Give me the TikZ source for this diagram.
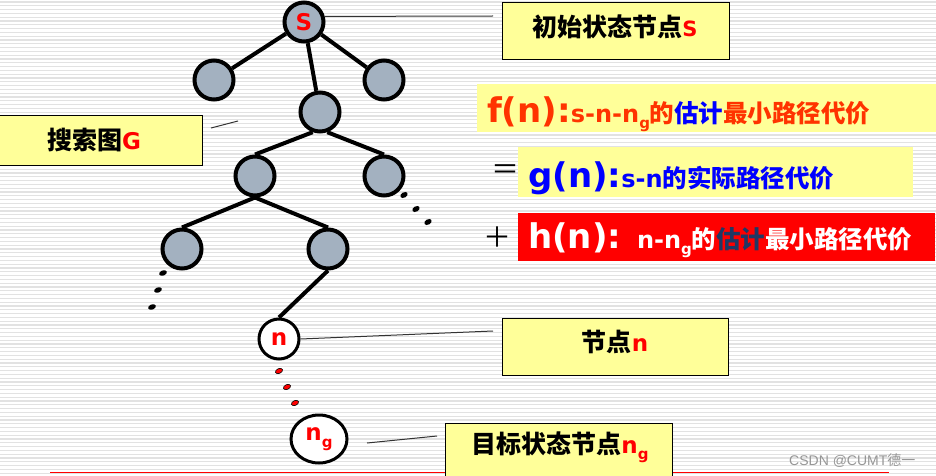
\documentclass[tikz,border=0pt]{standalone}
\usepackage{fontspec}
\setmainfont{DejaVu Sans}
\newfontfamily\cjk{Noto Sans CJK SC}
\newfontfamily\arialf{Liberation Sans}
\usetikzlibrary{shapes.geometric}
\definecolor{fcol}{RGB}{255,51,0}
\definecolor{gblue}{RGB}{0,0,255}
\definecolor{hnavy}{RGB}{31,56,100}
\definecolor{ybox}{RGB}{255,255,153}
\definecolor{rbox}{RGB}{255,0,0}
\definecolor{nfill}{RGB}{163,177,192}
\definecolor{stripe}{RGB}{226,226,226}
\definecolor{wm}{RGB}{150,150,150}
\newcommand\mysub[1]{\raisebox{-0.28em}{\fontsize{15}{15}\selectfont #1}}
\newcommand\bigtxt[1]{\fontsize{34}{34}\selectfont\bfseries #1}
\newcommand\midtxt[1]{\fontsize{24}{24}\selectfont\bfseries #1}
\newcommand\cj[1]{{\cjk\fontsize{24.5}{24.5}\selectfont\bfseries #1}}
\newcommand\cjb[1]{{\cjk\fontsize{25}{25}\selectfont\bfseries #1}}
\begin{document}
\begin{tikzpicture}[x=1pt,y=-1pt,
  tnode/.style={circle,draw=black,line width=4pt,fill=nfill,minimum size=39pt,inner sep=0pt},
  wnode/.style={circle,draw=black,line width=3pt,fill=white,minimum size=40pt,inner sep=0pt},
  edge/.style={line width=4pt,black},
  callout/.style={line width=1pt,black!80},
  ybx/.style={fill=ybox},
  ybxd/.style={fill=ybox,draw=black,line width=1pt},
  lbl/.style={inner sep=0pt},
  dotk/.style={fill=black},
  dotr/.style={fill=red,draw=black,line width=0.6pt}]
\useasboundingbox (0,0) rectangle (936,476);
\fill[white] (0,0) rectangle (936,476);
\foreach \i in {0,...,125} {\draw[stripe,line width=1.3pt] (0,2+3.8*\i) -- (936,2+3.8*\i);}
% bottom red line
\coordinate (rl1) at (50,472.5);
\coordinate (rl2) at (889,472.5);
\draw[red,line width=1.5pt] (rl1) -- (rl2);

% boxes
\fill[ybx] (477,84) rectangle (936,132);
\fill[ybx] (518,147) rectangle (913,197);
\fill[rbox] (518,213) rectangle (935,261);
\draw[ybxd] (502,3) rectangle (729,60);
\draw[ybxd] (-2,116) rectangle (202,165);
\draw[ybxd] (502,318) rectangle (728,375);
\draw[ybxd] (445,423) rectangle (672,482);

% box texts
\node[lbl] (t1) at (615,27) {\cjb{初始状态节点}{\color{red}\fontsize{21}{21}\selectfont\bfseries S}};
\node[lbl] (t2) at (94,140) {\cjb{搜索图}{\color{red}\fontsize{23}{23}\selectfont\bfseries G}};
\node[lbl] (t3) at (615,342) {\cjb{节点}{\color{red}\fontsize{23}{23}\selectfont\bfseries n}};
\node[lbl] (t4) at (560,447) {\cjb{目标状态节点}{\color{red}\fontsize{23}{23}\selectfont\bfseries n\mysub{g}}};

% formula lines
\node[lbl,anchor=base west] (fl) at (487,122) {\color{fcol}\bigtxt{f(n):}\midtxt{s-n-n\mysub{g}}\cj{的{\color{gblue}估计}最小路径代价}};
\node[lbl,anchor=base west] (gl) at (528,187) {\color{gblue}\bigtxt{g(n):}\midtxt{s-n}\cj{的实际路径代价}};
\node[lbl,anchor=base west] (hl) at (528,248) {\color{white}\bigtxt{h(n):} \midtxt{n-n\mysub{g}}\cj{的{\color{hnavy}估计}最小路径代价}};
\node[lbl] (eq) at (505,172) {{\cjk\fontsize{28}{28}\selectfont ＝}};
\node[lbl] (pl) at (497,237) {{\cjk\fontsize{28}{28}\selectfont ＋}};

% tree
\node[tnode] (s) at (304,22) {\color{red}\fontsize{23}{23}\selectfont\bfseries S};
\node[tnode] (a) at (214,80) {};
\node[tnode] (b) at (384,80) {};
\node[tnode] (c) at (320,112) {};
\node[tnode] (d) at (255,176) {};
\node[tnode] (e) at (384,176) {};
\node[tnode] (f) at (182,249) {};
\node[tnode] (g) at (328,249) {};
\node[wnode] (n) at (279,339) {\color{red}\fontsize{23}{23}\selectfont\bfseries n};
\node[ellipse,draw=black,line width=3pt,fill=white,minimum width=56pt,minimum height=48pt,inner sep=0pt] (ng) at (319,439) {\color{red}\fontsize{23}{23}\selectfont\bfseries n\mysub{g}};

\draw[edge] (s) -- (a);
\draw[edge] (s) -- (c);
\draw[edge] (s) -- (b);
\draw[edge] (c.250) -- (d.north);
\draw[edge] (c.290) -- (e.north);
\draw[edge] (d.south) -- (f.north);
\draw[edge] (d.south) -- (g.north);
\draw[edge] (g.south) -- (n.north);

% dots
\foreach \p in {(404,195),(416,209),(428,222)} {\fill[dotk,shift={\p},rotate=30] (0,0) ellipse [x radius=4, y radius=2.6];}
\foreach \p in {(163,273),(158,290),(152,307)} {\fill[dotk,shift={\p},rotate=20] (0,0) ellipse [x radius=4, y radius=2.6];}
\foreach \p in {(279,371),(287,387),(295,403)} {\filldraw[dotr,shift={\p},rotate=25] (0,0) ellipse [x radius=3.8, y radius=2.4];}

% callouts
\coordinate (c1) at (493,16);
\draw[callout] (s.15) -- (c1);
\coordinate (g1) at (211,128);
\coordinate (g2) at (238,121);
\draw[callout] (g1) -- (g2);
\coordinate (n1) at (493,331);
\draw[callout] (n.east) -- (n1);
\coordinate (ng1) at (367,443);
\coordinate (ng2) at (437,436);
\draw[callout] (ng1) -- (ng2);

% watermark
\node[lbl,anchor=base west] (wmk) at (789,465) {\color{wm}\arialf\fontsize{14}{14}\selectfont CSDN @CUMT{\cjk 德一}};
\end{tikzpicture}
\end{document}
